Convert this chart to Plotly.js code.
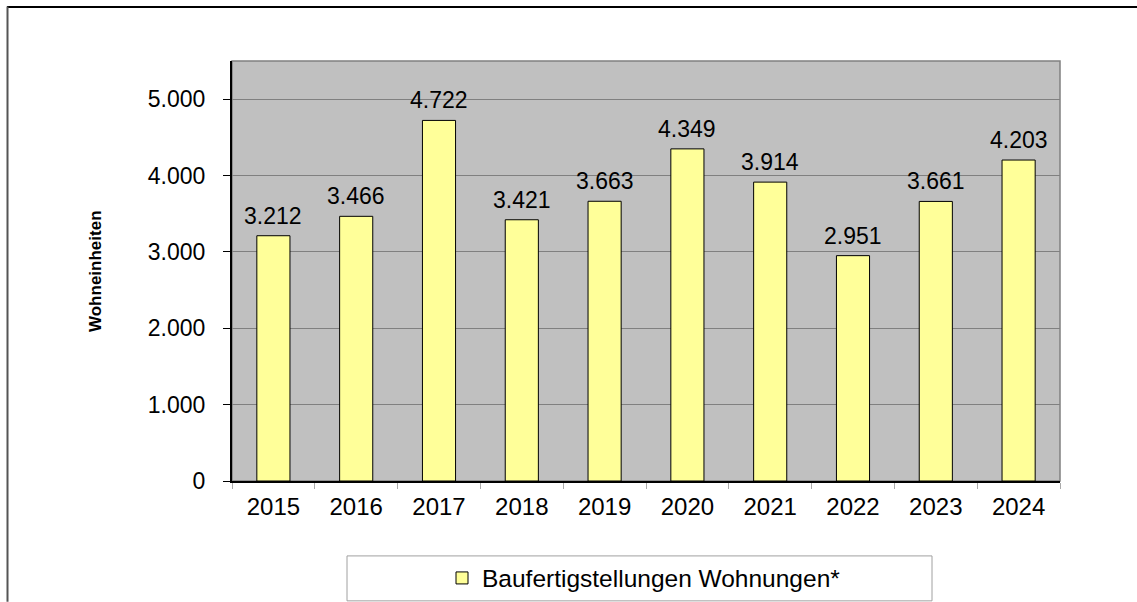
<!DOCTYPE html>
<html>
<head>
<meta charset="utf-8">
<script src="https://cdn.plot.ly/plotly-3.0.1.min.js"></script>
<style>html,body{margin:0;padding:0;background:#fff;}#chart{width:1137px;height:602px;}</style>
</head>
<body>
<div id="chart"></div>
<script>
const years = ['2015','2016','2017','2018','2019','2020','2021','2022','2023','2024'];
const completions = [3212, 3466, 4722, 3421, 3663, 4349, 3914, 2951, 3661, 4203];
const yTicks = [0, 1000, 2000, 3000, 4000, 5000];
const seriesName = 'Baufertigstellungen Wohnungen*';
const yTitle = 'Wohneinheiten';

const FONT = 'Arial, "Liberation Sans", sans-serif';
function fmt(v){ return String(v).replace(/\B(?=(\d{3})+(?!\d))/g, '.'); }

const W = 1137, H = 602;
const L = 232, R = 1060, T = 60.5, B = 481;
const pw = R - L, ph = B - T;
const px = x => (x - L) / pw;
const py = y => (B - y) / ph;

const trace = {
  type: 'bar', x: years, y: completions, name: seriesName,
  width: 0.4,
  marker: {color: '#FFFF99', line: {color: '#000000', width: 1}},
  hoverinfo: 'skip'
};

const labels = years.map((yr, i) => ({
  x: i, y: completions[i], xref: 'x', yref: 'y',
  text: fmt(completions[i]), showarrow: false,
  yanchor: 'middle', yshift: 20,
  font: {family: FONT, size: 23, color: '#000'}
}));

labels.push({
  xref: 'paper', yref: 'paper', x: px(95), y: 0.5,
  text: '<b>' + yTitle + '</b>', textangle: -90, showarrow: false,
  xanchor: 'center', yanchor: 'middle',
  font: {family: FONT, size: 17, color: '#000'}
});

const layout = {
  width: W, height: H,
  margin: {l: L, r: W - R, t: T, b: H - B, pad: 0, autoexpand: false},
  paper_bgcolor: '#ffffff', plot_bgcolor: '#C0C0C0',
  separators: ',.',
  showlegend: true,
  xaxis: {
    type: 'category', range: [-0.5, years.length - 0.5], autorange: false,
    automargin: false,
    showgrid: false, zeroline: false,
    showline: true, linecolor: '#000', linewidth: 1.5,
    ticks: 'outside', tickson: 'boundaries', ticklen: 6, tickcolor: '#aaa', tickwidth: 1,
    ticklabelstandoff: 4,
    tickfont: {family: FONT, size: 24, color: '#000'}
  },
  yaxis: {
    range: [0, 5500], autorange: false, tickvals: yTicks, ticktext: yTicks.map(fmt),
    automargin: false,
    showgrid: true, gridcolor: '#808080', gridwidth: 1, zeroline: false,
    showline: true, linecolor: '#000', linewidth: 2,
    ticks: 'outside', ticklen: 7, tickcolor: '#000', tickwidth: 1,
    ticklabelstandoff: 13,
    tickfont: {family: FONT, size: 23, color: '#000'}
  },
  legend: {
    orientation: 'h', xref: 'container', yref: 'container',
    x: 644 / W, xanchor: 'center', y: (H - 578) / H, yanchor: 'middle',
    itemwidth: 30,
    bgcolor: 'rgba(0,0,0,0)', borderwidth: 0,
    font: {family: FONT, size: 24.5, color: '#000'}
  },
  shapes: [
    {type: 'rect', xref: 'paper', yref: 'paper', x0: 0, x1: 1, y0: 0, y1: 1,
     line: {color: '#808080', width: 1.5}, layer: 'below'},
    {type: 'rect', xref: 'paper', yref: 'paper', x0: px(347), x1: px(932), y0: py(601), y1: py(556),
     line: {color: '#A0A0A0', width: 1}, fillcolor: 'rgba(0,0,0,0)'},
    {type: 'line', xref: 'paper', yref: 'paper', x0: px(7), x1: px(1137), y0: py(6.5), y1: py(6.5),
     line: {color: '#000', width: 2}},
    {type: 'line', xref: 'paper', yref: 'paper', x0: px(7.5), x1: px(7.5), y0: py(6), y1: py(602),
     line: {color: '#555', width: 2}}
  ],
  annotations: labels
};

Plotly.newPlot('chart', [trace], layout, {displayModeBar: false, staticPlot: true});
</script>
</body>
</html>
